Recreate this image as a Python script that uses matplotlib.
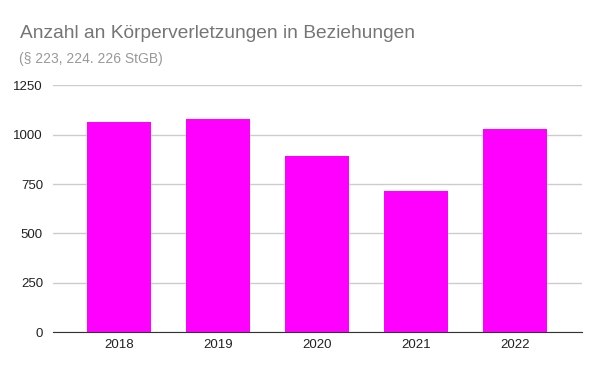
import matplotlib
matplotlib.use('Agg')
from matplotlib import pyplot as plt

years = ['2018', '2019', '2020', '2021', '2022']
counts = [1063, 1079, 892, 715, 1027]
yticks = [0, 250, 500, 750, 1000, 1250]

plt.rcParams['font.family'] = ['Liberation Sans', 'DejaVu Sans']

fig = plt.figure(figsize=(6.0, 3.71), dpi=100)
ax = fig.add_axes([0.0878, 0.1043, 0.8817, 0.6658])

x = range(len(years))
ax.bar(x, counts, width=0.646, color='#ff00ff', zorder=2)

ax.set_xlim(-0.67, len(years) - 1 + 0.67)
ax.set_ylim(0, 1250)
ax.set_yticks(yticks)
ax.set_yticklabels([str(v) for v in yticks])
ax.set_xticks(list(x))
ax.set_xticklabels(years)

ax.grid(axis='y', color='#cccccc', linewidth=1, zorder=0)
for s in ['top', 'right', 'left']:
    ax.spines[s].set_visible(False)
ax.spines['bottom'].set_color('#333333')
ax.spines['bottom'].set_zorder(3)
ax.tick_params(axis='both', length=0, labelsize=9.5, colors='#222222')
ax.tick_params(axis='x', pad=5)
ax.tick_params(axis='y', pad=7)

fig.text(20 / 600, 1 - 37.7 / 371, 'Anzahl an Körperverletzungen in Beziehungen',
         fontsize=13.8, color='#757575', va='baseline', ha='left')
fig.text(19 / 600, 1 - 62.5 / 371, '(§ 223, 224. 226 StGB)',
         fontsize=10, color='#999999', va='baseline', ha='left')

fig.savefig('out.png', dpi=100, facecolor='white')
